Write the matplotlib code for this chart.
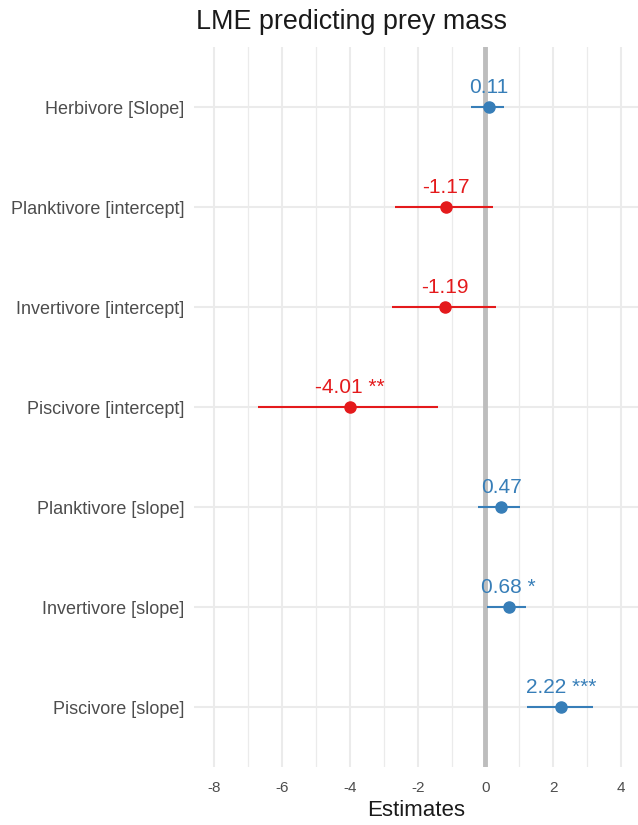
import matplotlib
matplotlib.use("Agg")
import matplotlib.pyplot as plt
import numpy as np

terms = ["Herbivore [Slope]", "Planktivore [intercept]", "Invertivore [intercept]",
         "Piscivore [intercept]", "Planktivore [slope]", "Invertivore [slope]",
         "Piscivore [slope]"]
estimates = [0.11, -1.17, -1.19, -4.01, 0.47, 0.68, 2.22]
ci_low = [-0.42, -2.67, -2.75, -6.72, -0.21, 0.05, 1.23]
ci_high = [0.54, 0.22, 0.31, -1.39, 1.03, 1.21, 3.17]
stars = ["", "", "", "**", "", "*", "***"]
xticks = [-8, -6, -4, -2, 0, 2, 4]

C_POS = "#377EB8"
C_NEG = "#E41A1C"
GRID = "#EBEBEB"

plt.rcParams["font.family"] = ["Liberation Sans", "DejaVu Sans"]

fig = plt.figure(figsize=(6.38, 8.25), dpi=100)
ax = fig.add_axes([194 / 638, 1 - 767 / 825, 444 / 638, 720 / 825])

ax.set_xlim(-8.6, 4.5)
ax.set_ylim(7.6, 0.4)
y = np.arange(1, len(terms) + 1)

# grid: major at even estimates, minor at odd ones, one line per term
for v in np.arange(-7, 5, 2):
    ax.axvline(v, color=GRID, lw=0.9, zorder=0)
for v in xticks:
    ax.axvline(v, color=GRID, lw=1.5, zorder=0)
for yy in y:
    ax.axhline(yy, color=GRID, lw=1.5, zorder=0)
ax.axvline(0, color="#BDBDBD", lw=3.5, zorder=1)

for yy, est, lo, hi, st in zip(y, estimates, ci_low, ci_high, stars):
    col = C_POS if est > 0 else C_NEG
    ax.plot([lo, hi], [yy, yy], color=col, lw=1.5, zorder=2, solid_capstyle="butt")
    ax.plot(est, yy, "o", color=col, ms=8, zorder=3)
    lab = f"{est:.2f}" + (f" {st}" if st else "")
    ax.text(est, yy - 0.1, lab, color=col, fontsize=15,
            ha="center", va="bottom", zorder=4)

for s in ax.spines.values():
    s.set_visible(False)
ax.set_xticks(xticks)
ax.set_xticklabels([str(t) for t in xticks])
ax.set_yticks(y)
ax.set_yticklabels(terms)
ax.tick_params(axis="both", length=0, colors="#4D4D4D")
ax.tick_params(axis="x", labelsize=11, pad=10)
ax.tick_params(axis="y", labelsize=13, pad=7)
ax.set_xlabel("Estimates", fontsize=16, color="#1A1A1A", labelpad=4)

fig.text(351 / 638, 1 - 22 / 825, "LME predicting prey mass", fontsize=19.4,
         color="#1A1A1A", ha="center", va="center")

fig.savefig("out.png", dpi=100, facecolor="white")
